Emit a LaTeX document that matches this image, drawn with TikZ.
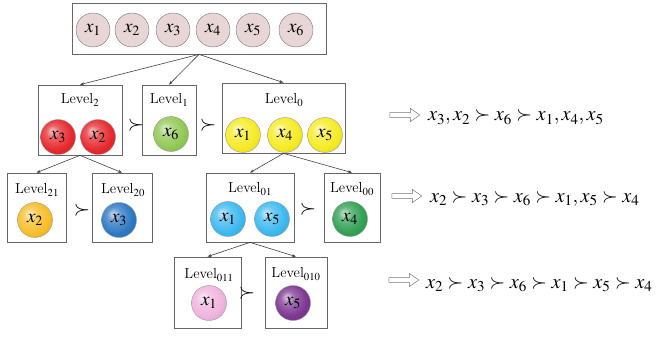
\documentclass[tikz,border=0pt]{standalone}
\usepackage{mathptmx}
\usetikzlibrary{arrows.meta,positioning,shapes.arrows}

\definecolor{elemfill}{RGB}{232,214,214}
\definecolor{ballred}{RGB}{230,40,45}
\definecolor{ballgreen}{RGB}{145,200,85}
\definecolor{ballyellow}{RGB}{245,235,35}
\definecolor{ballgold}{RGB}{248,190,40}
\definecolor{ballblue}{RGB}{45,120,195}
\definecolor{ballcyan}{RGB}{60,185,240}
\definecolor{balldkgreen}{RGB}{50,160,85}
\definecolor{ballpink}{RGB}{240,180,222}
\definecolor{ballpurple}{RGB}{125,55,145}

% softer ball shading (lighter edge than the built-in one)
\makeatletter
\pgfdeclareradialshading[tikz@ball]{softball}{\pgfqpoint{-9bp}{9bp}}{%
  color(0bp)=(tikz@ball!25!white); color(10bp)=(tikz@ball!75!white);
  color(24bp)=(tikz@ball); color(40bp)=(tikz@ball!85!black);
  color(50bp)=(tikz@ball!65!black)}
\makeatother

\begin{document}
\begin{tikzpicture}[x=1pt,y=-1pt,
  lvlbox/.style={draw=black!60, line width=0.7pt, inner sep=0pt},
  elem/.style={circle, draw=black!55, fill=elemfill, minimum size=34pt, inner sep=0pt, font=\fontsize{19}{20}\selectfont},
  ball/.style={circle, draw=black!40, ball color=#1, shading=softball, minimum size=35pt, inner sep=0pt, font=\fontsize{19}{20}\selectfont},
  lvl/.style={font=\fontsize{14.5}{16}\selectfont, inner sep=0pt},
  pref/.style={font=\fontsize{21}{22}\selectfont, inner sep=0pt},
  conn/.style={draw=black!75, line width=0.6pt, -{Stealth[length=4pt,width=3pt]}},
  imply/.style={single arrow, draw=black!55, line width=0.5pt, minimum height=30pt, minimum width=13pt, inner sep=2.2pt, single arrow head extend=4pt, single arrow tip angle=70},
  order/.style={anchor=base west, font=\fontsize{20.3}{24}\selectfont, inner sep=0pt}]
  \useasboundingbox (0,0) rectangle (659,337);

  % all alternatives
  \node[lvlbox, minimum width=254pt, minimum height=51pt] (all) at (199,28.5) {};
  \node[elem] (a1) at (93,30) {$x_1$};
  \node[elem] (a2) at (132,30) {$x_2$};
  \node[elem] (a3) at (173,30) {$x_3$};
  \node[elem] (a4) at (213,30) {$x_4$};
  \node[elem] (a5) at (253,30) {$x_5$};
  \node[elem] (a6) at (296,30) {$x_6$};

  % first split
  \node[lvlbox, minimum width=84pt, minimum height=70pt] (L2) at (80,120) {};
  \node[lvl] (L2t) at (80,100) {Level$_{2}$};
  \node[ball=ballred] (L2a) at (58,137) {$x_3$};
  \node[ball=ballred] (L2b) at (98,137) {$x_2$};
  \node[pref] (p1) at (136,125) {$\succ$};
  \node[lvlbox, minimum width=54pt, minimum height=70pt] (L1) at (169,120) {};
  \node[lvl] (L1t) at (169,100) {Level$_{1}$};
  \node[ball=ballgreen] (L1a) at (171,134) {$x_6$};
  \node[pref] (p2) at (208,125) {$\succ$};
  \node[lvlbox, minimum width=123pt, minimum height=70pt] (L0) at (283.5,118) {};
  \node[lvl] (L0t) at (284,100) {Level$_{0}$};
  \node[ball=ballyellow] (L0a) at (243,135) {$x_1$};
  \node[ball=ballyellow] (L0b) at (285,135) {$x_4$};
  \node[ball=ballyellow] (L0c) at (325,135) {$x_5$};

  % second split
  \node[lvlbox, minimum width=59pt, minimum height=69pt] (L21) at (36.5,207.5) {};
  \node[lvl] (L21t) at (37,190) {Level$_{21}$};
  \node[ball=ballgold] (L21a) at (35,220) {$x_2$};
  \node[pref] (p3) at (82,210) {$\succ$};
  \node[lvlbox, minimum width=60pt, minimum height=69pt] (L20) at (122,207.5) {};
  \node[lvl] (L20t) at (123,190) {Level$_{20}$};
  \node[ball=ballblue] (L20a) at (119,220) {$x_3$};
  \node[lvlbox, minimum width=88pt, minimum height=69pt] (L01) at (250,207.5) {};
  \node[lvl] (L01t) at (250,189) {Level$_{01}$};
  \node[ball=ballcyan] (L01a) at (228,219) {$x_1$};
  \node[ball=ballcyan] (L01b) at (272,219) {$x_5$};
  \node[pref] (p4) at (308,209) {$\succ$};
  \node[lvlbox, minimum width=56pt, minimum height=69pt] (L00) at (352,207.5) {};
  \node[lvl] (L00t) at (352,189) {Level$_{00}$};
  \node[ball=balldkgreen] (L00a) at (350,219) {$x_4$};

  % third split
  \node[lvlbox, minimum width=67pt, minimum height=71pt] (L011) at (207.5,292.5) {};
  \node[lvl] (L011t) at (209,275) {Level$_{011}$};
  \node[ball=ballpink] (L011a) at (209,303) {$x_1$};
  \node[pref] (p5) at (247,293) {$\succ$};
  \node[lvlbox, minimum width=62pt, minimum height=71pt] (L010) at (296,292.5) {};
  \node[lvl] (L010t) at (296,274) {Level$_{010}$};
  \node[ball=ballpurple] (L010a) at (293,303) {$x_5$};

  % tree edges
  \draw[conn] (all.south) -- (L2.north);
  \draw[conn] (all.south) -- (L1.north);
  \draw[conn] (all.south) -- (L0.north);
  \draw[conn] (L2.south) -- (L21.north);
  \draw[conn] (L2.south) -- (L20.north);
  \draw[conn] (L0.south) -- (L01.north);
  \draw[conn] (L0.south) -- (L00.north);
  \draw[conn] (L01.south) -- (L011.north);
  \draw[conn] (L01.south) -- (L010.north);

  % resulting orders
  \node[imply] (r1) at (403,115) {};
  \node[order] (o1) at (428,121) {$x_3,x_2\succ x_6\succ x_1,x_4,x_5$};
  \node[imply] (r2) at (405,196) {};
  \node[order] (o2) at (430,202) {$x_2\succ x_3\succ x_6\succ x_1,x_5\succ x_4$};
  \node[imply] (r3) at (402,280) {};
  \node[order] (o3) at (426,288) {$x_2\succ x_3\succ x_6\succ x_1\succ x_5\succ x_4$};
\end{tikzpicture}
\end{document}
